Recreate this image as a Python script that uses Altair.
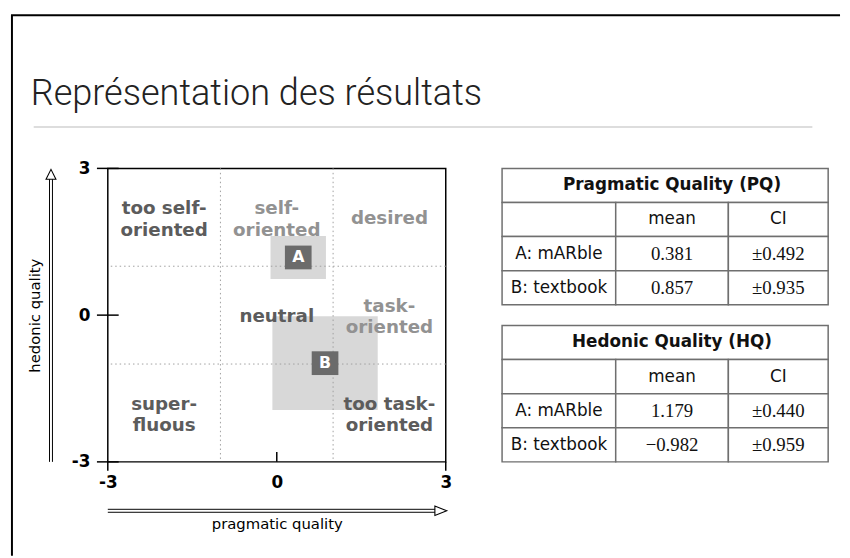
import altair as alt
import pandas as pd

# ---------------- data ----------------
slide_title = "Représentation des résultats"
x_axis_title = "pragmatic quality"
y_axis_title = "hedonic quality"
axis_ticks = [-3, 0, 3]
split_lines = [-1, 1]

groups = ["A", "B"]
methods = ["A: mARble", "B: textbook"]
pq_mean = [0.381, 0.857]
pq_ci = [0.492, 0.935]
hq_mean = [1.179, -0.982]
hq_ci = [0.440, 0.959]

region_text = [["too self-", "oriented"], ["self-", "oriented"], ["desired"], ["neutral"],
               ["task-", "oriented"], ["super-", "fluous"], ["too task-", "oriented"]]
region_pq = [-2, 0, 2, 0, 2, -2, 2]
region_hq = [2, 2, 2, 0, 0, -2, -2]
region_tone = ["dark", "light", "light", "dark", "light", "dark", "dark"]

pq_table_title = "Pragmatic Quality (PQ)"
hq_table_title = "Hedonic Quality (HQ)"
table_headers = ["mean", "CI"]

# ---------------- quadrant chart ----------------
W, H = 342, 297
SANS = "DejaVu Sans"
xs = alt.Scale(domain=[min(axis_ticks), max(axis_ticks)], nice=False, zero=False)
ys = alt.Scale(domain=[min(axis_ticks), max(axis_ticks)], nice=False, zero=False)

x_axis = alt.Axis(values=axis_ticks, title=x_axis_title, grid=False, domain=False,
                  ticks=True, tickSize=9, tickColor="transparent",
                  labelFont=SANS, labelFontWeight="bold", labelFontSize=17, labelColor="black",
                  labelPadding=4, labelExpr="'' + datum.value", labelFlush=False, labelOverlap=False,
                  titleFont=SANS, titleFontSize=15, titleFontWeight="normal", titleColor="black",
                  titleY=62, titleBaseline="middle")
y_axis = alt.Axis(values=axis_ticks, title=y_axis_title, grid=False, domain=False,
                  ticks=True, tickSize=11, tickColor="transparent",
                  labelFont=SANS, labelFontWeight="bold", labelFontSize=17, labelColor="black",
                  labelPadding=7, labelExpr="'' + datum.value", labelFlush=False, labelOverlap=False,
                  titleFont=SANS, titleFontSize=15, titleFontWeight="normal", titleColor="black",
                  titleX=-74, titleY=H / 2, titleAngle=-90, titleBaseline="middle", titleAlign="center")


def X(field):
    return alt.X(field, scale=xs, axis=x_axis)


def Y(field):
    return alt.Y(field, scale=ys, axis=y_axis)


one = pd.DataFrame({"k": [0]})
groups_df = pd.DataFrame({"g": groups, "pq": pq_mean, "pqci": pq_ci, "hq": hq_mean, "hqci": hq_ci})
base = alt.Chart(groups_df)

boxes = base.mark_rect(color="#d8d8d8").transform_calculate(
    x0="datum.pq - datum.pqci", x1="datum.pq + datum.pqci",
    y0="datum.hq - datum.hqci", y1="datum.hq + datum.hqci",
).encode(x=X("x0:Q"), x2="x1:Q", y=Y("y0:Q"), y2="y1:Q")

split_df = pd.DataFrame({"v": split_lines})
vgrid = alt.Chart(split_df).mark_rule(color="#a0a0a0", strokeDash=[1.5, 3], strokeWidth=1).encode(x=X("v:Q"))
hgrid = alt.Chart(split_df).mark_rule(color="#a0a0a0", strokeDash=[1.5, 3], strokeWidth=1).encode(y=Y("v:Q"))

regions = alt.Data(values=[{"t": t, "pq": a, "hq": b, "tone": c}
                           for t, a, b, c in zip(region_text, region_pq, region_hq, region_tone)])
tone_color = alt.Color("tone:N", scale=alt.Scale(domain=["dark", "light"], range=["#5c5c5c", "#929292"]),
                       legend=None)


def region_layer(n_lines, dy):
    return alt.Chart(regions).transform_filter(f"length(datum.t) == {n_lines}").mark_text(
        font=SANS, fontWeight="bold", fontSize=18.5, lineHeight=21.5,
        baseline="middle", align="center", dy=dy).encode(
        x=X("pq:Q"), y=Y("hq:Q"), text="t:N", color=tone_color)


labels1 = region_layer(1, 1)
labels2 = region_layer(2, -9)

squares = base.mark_point(shape="M -1 -0.89 L 1 -0.89 L 1 0.89 L -1 0.89 Z", size=729, filled=True,
                          color="#6b6b6b", opacity=1, strokeWidth=0).encode(x=X("pq:Q"), y=Y("hq:Q"))
letters = base.mark_text(font=SANS, fontWeight="bold", fontSize=16, color="white",
                         baseline="middle").encode(x=X("pq:Q"), y=Y("hq:Q"), text="g:N")

tick_df = pd.DataFrame({"v": axis_ticks})
edge_df = pd.DataFrame({"v": [v for v in axis_ticks if v != 0]})
mid_df = pd.DataFrame({"v": [v for v in axis_ticks if v == 0]})
ytick = alt.Chart(tick_df).mark_rule(color="black", strokeWidth=1.5).encode(
    y=Y("v:Q"), x=alt.value(-11), x2=alt.value(11))
xtick_out = alt.Chart(edge_df).mark_rule(color="black", strokeWidth=1.5).encode(
    x=X("v:Q"), y=alt.value(H), y2=alt.value(H + 9))
xtick_in = alt.Chart(mid_df).mark_rule(color="black", strokeWidth=1.5).encode(
    x=X("v:Q"), y=alt.value(H - 10), y2=alt.value(H))

lo, hi = min(axis_ticks), max(axis_ticks)
harrow1 = alt.Chart(one).mark_rule(color="black", strokeWidth=1, x2Offset=-6).encode(
    x=alt.X(datum=lo, scale=xs, axis=x_axis), x2=alt.X2(datum=hi), y=alt.value(H + 48))
harrow2 = alt.Chart(one).mark_rule(color="black", strokeWidth=1, x2Offset=-6).encode(
    x=alt.X(datum=lo, scale=xs, axis=x_axis), x2=alt.X2(datum=hi), y=alt.value(H + 51))
hhead = alt.Chart(one).mark_point(shape="M 1 0 L -1 -0.8 L -1 0.8 Z", size=144, filled=True,
                                  fill="white", stroke="black", strokeWidth=1.1, opacity=1, xOffset=-5).encode(
    x=alt.X(datum=hi, scale=xs, axis=x_axis), y=alt.value(H + 49.5))

varrow1 = alt.Chart(one).mark_rule(color="black", strokeWidth=1, y2Offset=8).encode(
    y=alt.Y(datum=lo, scale=ys, axis=y_axis), y2=alt.Y2(datum=hi), x=alt.value(-59))
varrow2 = alt.Chart(one).mark_rule(color="black", strokeWidth=1, y2Offset=8).encode(
    y=alt.Y(datum=lo, scale=ys, axis=y_axis), y2=alt.Y2(datum=hi), x=alt.value(-56))
vhead = alt.Chart(one).mark_point(shape="M 0 -1 L 1 1 L -1 1 Z", size=100, filled=True,
                                  fill="white", stroke="black", strokeWidth=1.1, opacity=1, yOffset=6).encode(
    y=alt.Y(datum=hi, scale=ys, axis=y_axis), x=alt.value(-57.5))

# slide decorations
frame_top = alt.Chart(one).mark_rule(color="black", strokeWidth=2).encode(
    x=alt.value(-98), x2=alt.value(741), y=alt.value(-155))
frame_left = alt.Chart(one).mark_rule(color="black", strokeWidth=2).encode(
    x=alt.value(-97), y=alt.value(-155), y2=alt.value(392))
separator = alt.Chart(one).mark_rule(color="#d2d2d2", strokeWidth=1.5).encode(
    x=alt.value(-75), x2=alt.value(713), y=alt.value(-42))
title_txt = alt.Chart(pd.DataFrame({"t": [slide_title]})).mark_text(
    align="left", baseline="alphabetic", font="Roboto", fontWeight=300, fontSize=36.5, color="#222222").encode(
    x=alt.value(-78), y=alt.value(-64), text="t:N")

quad = alt.layer(
    frame_top, frame_left, separator, title_txt,
    boxes, vgrid, hgrid, labels1, labels2, squares, letters,
    ytick, xtick_out, xtick_in,
    harrow1, harrow2, hhead, varrow1, varrow2, vhead,
).properties(width=W, height=H, view=alt.ViewBackground(stroke="black", strokeWidth=1.5))


# ---------------- tables ----------------
def fmt_mean(v):
    return f"{v:.3f}".replace("-", "\u2212")


def fmt_ci(v):
    return f"\u00b1{v:.3f}"


def make_table(title, means, cis):
    recs = [{"c0": 0, "c1": 3, "r": 0, "t": title, "k": "title"},
            {"c0": 0, "c1": 1, "r": 1, "t": "", "k": "text"}]
    for i, h in enumerate(table_headers):
        recs.append({"c0": i + 1, "c1": i + 2, "r": 1, "t": h, "k": "text"})
    for j, (m, mv, cv) in enumerate(zip(methods, means, cis)):
        recs.append({"c0": 0, "c1": 1, "r": j + 2, "t": m, "k": "text"})
        recs.append({"c0": 1, "c1": 2, "r": j + 2, "t": fmt_mean(mv), "k": "num"})
        recs.append({"c0": 2, "c1": 3, "r": j + 2, "t": fmt_ci(cv), "k": "num"})
    tx = alt.Scale(domain=[0, 1, 2, 3], range=[0, 115, 229, 330])
    ty = alt.Scale(domain=[0, 4], range=[0, 138])
    tb = alt.Chart(alt.Data(values=recs)).transform_calculate(
        r1="datum.r + 1", cx="(datum.c0 + datum.c1) / 2", cy="datum.r + 0.5")
    cells = tb.mark_rect(fill="white", stroke="#6f6f6f", strokeWidth=1.5).encode(
        x=alt.X("c0:Q", scale=tx, axis=None), x2="c1:Q",
        y=alt.Y("r:Q", scale=ty, axis=None), y2="r1:Q")

    def txt(kind, **kw):
        return tb.transform_filter(f"datum.k == '{kind}'").mark_text(
            baseline="middle", align="center", color="#111111", **kw).encode(
            x=alt.X("cx:Q", scale=tx, axis=None), y=alt.Y("cy:Q", scale=ty, axis=None), text="t:N")

    t_title = txt("title", font=SANS, fontWeight="bold", fontSize=17)
    t_text = txt("text", font=SANS, fontSize=17)
    t_num = txt("num", font="Liberation Serif", fontSize=19)
    return alt.layer(cells, t_title, t_text, t_num).properties(width=330, height=138)


tables = alt.vconcat(make_table(pq_table_title, pq_mean, pq_ci),
                     make_table(hq_table_title, hq_mean, hq_ci),
                     spacing=21, bounds="flush")

chart = alt.hconcat(quad, tables, spacing=57, bounds="flush").properties(
    padding={"left": 1, "top": 2, "right": 0, "bottom": 0}
).configure_view(stroke="transparent")

chart.save("out.html", embed_options={"renderer": "svg", "actions": False})
